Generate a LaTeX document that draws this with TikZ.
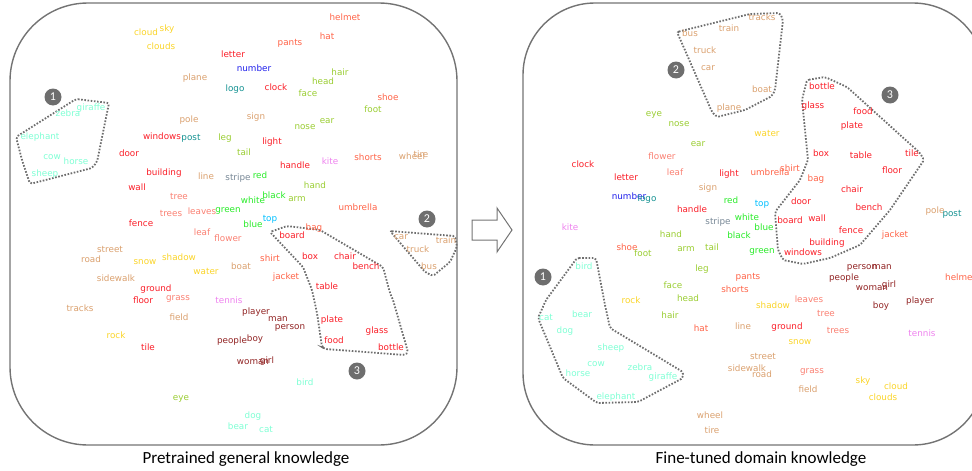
\documentclass[tikz,border=0pt]{standalone}
\usepackage{fontspec}
\newfontfamily\wordfont{DejaVu Sans}
\newfontfamily\capfont{Carlito}
\definecolor{cYel}{RGB}{250,212,40}
\definecolor{cTan}{RGB}{218,160,110}
\definecolor{cRed}{RGB}{250,30,40}
\definecolor{cTom}{RGB}{255,99,71}
\definecolor{cSal}{RGB}{250,128,114}
\definecolor{cYG}{RGB}{154,205,50}
\definecolor{cBlu}{RGB}{30,30,235}
\definecolor{cTeal}{RGB}{20,145,145}
\definecolor{cLime}{RGB}{40,235,40}
\definecolor{cSky}{RGB}{0,191,255}
\definecolor{cSlate}{RGB}{120,136,150}
\definecolor{cVio}{RGB}{238,130,238}
\definecolor{cBrn}{RGB}{145,35,35}
\definecolor{cAqua}{RGB}{127,255,212}
\definecolor{cBorder}{RGB}{115,115,115}
\definecolor{cDot}{RGB}{110,110,110}
\newcommand\wrd[4]{\node[word,text=#1] (#2-#4) at (#3) {#4};}
\tikzset{
  word/.style={inner sep=0pt,font=\wordfont\fontsize{8.8}{10}\selectfont,text height=6.5pt,text depth=1.8pt},
  panel/.style={draw=cBorder,line width=1.4pt},
  group/.style={draw=cDot,line width=1.8pt,dash pattern=on 1.6pt off 1.6pt,rounded corners=2pt},
  badge/.style={circle,fill=cDot,text=white,minimum size=17pt,inner sep=0pt,font=\capfont\fontsize{12}{12}\selectfont},
  caption/.style={inner sep=0pt,font=\capfont\fontsize{17}{20}\selectfont},
  hollowarrow/.style={draw=cBorder,line width=1pt,line join=miter}
}
\begin{document}
\begin{tikzpicture}[x=1pt,y=-1pt]
\useasboundingbox (0,0) rectangle (972,471);
% panels
\draw[panel,rounded corners=78pt] (10,3) rectangle (457,445);
\draw[panel,rounded corners=72pt] (523,3) rectangle (985,445);
% arrow
\draw[hollowarrow] (472,220) -- (497,220) -- (497,208) -- (512,230) -- (497,252) -- (497,240) -- (472,240) -- cycle;
% captions
\node[caption] (capL) at (246,459) {Pretrained general knowledge};
\node[caption] (capR) at (761,459) {Fine-tuned domain knowledge};
% left groups
\draw[group] (76,99) -- (109,103) -- (97,162) -- (92,168) -- (30,184) -- (22,160) -- (16,137) -- cycle;
\draw[group] (390,231) -- (455,236) -- (457,247) -- (450,262) -- (433,276) -- (425,272) -- cycle;
\draw[group] (270,232) -- (287,226) -- (320,230) -- (383,267) -- (390,293) -- (393,300) -- (408,352) -- (405,355) -- (325,349) -- (322,347) -- (317,313) -- (312,290) -- (303,267) -- cycle;
% right groups
\draw[group] (677,32) -- (750,14) -- (780,13) -- (783,20) -- (775,90) -- (772,96) -- (745,110) -- (717,117) -- (712,112) -- cycle;
\draw[group] (807,80) -- (825,77) -- (847,87) -- (920,153) -- (924,160) -- (890,210) -- (860,245) -- (830,258) -- (803,264) -- (783,260) -- (778,250) -- (775,212) -- (800,180) -- (808,160) -- (802,100) -- cycle;
\draw[group] (577,258) -- (596,258) -- (605,305) -- (610,328) -- (683,372) -- (683,378) -- (638,402) -- (597,403) -- (563,378) -- (538,318) -- (546,300) -- cycle;
% badges
\node[badge] (bL1) at (53,97) {1};
\node[badge] (bL2) at (427,219) {2};
\node[badge] (bL3) at (357,371) {3};
\node[badge] (bR1) at (543,277) {1};
\node[badge] (bR2) at (676,70) {2};
\node[badge] (bR3) at (890,95) {3};
% ---------- left words ----------
\wrd{cYel}{L}{146,33}{cloud}
\wrd{cYel}{L}{167,29}{sky}
\wrd{cYel}{L}{161,47}{clouds}
\wrd{cRed}{L}{233,55}{letter}
\wrd{cTan}{L}{195,78}{plane}
\wrd{cTeal}{L}{235,89}{logo}
\wrd{cAqua}{L}{68,114}{zebra}
\wrd{cAqua}{L}{91,108}{giraffe}
\wrd{cAqua}{L}{40,137}{elephant}
\wrd{cTan}{L}{189,120}{pole}
\wrd{cRed}{L}{162,137}{windows}
\wrd{cTeal}{L}{191,138}{post}
\wrd{cYG}{L}{225,138}{leg}
\wrd{cRed}{L}{129,154}{door}
\wrd{cAqua}{L}{52,157}{cow}
\wrd{cTom}{L}{345,18}{helmet}
\wrd{cTom}{L}{327,37}{hat}
\wrd{cTom}{L}{290,43}{pants}
\wrd{cBlu}{L}{254,69}{number}
\wrd{cYG}{L}{340,73}{hair}
\wrd{cYG}{L}{323,82}{head}
\wrd{cRed}{L}{276,88}{clock}
\wrd{cYG}{L}{308,94}{face}
\wrd{cTom}{L}{388,98}{shoe}
\wrd{cYG}{L}{373,110}{foot}
\wrd{cTan}{L}{256,117}{sign}
\wrd{cYG}{L}{327,121}{ear}
\wrd{cYG}{L}{305,127}{nose}
\wrd{cRed}{L}{272,142}{light}
\wrd{cYG}{L}{244,153}{tail}
\wrd{cTom}{L}{368,158}{shorts}
\wrd{cTan}{L}{412,157}{wheel}
\wrd{cTan}{L}{421,155}{tire}
\wrd{cVio}{L}{330,162}{kite}
\wrd{cRed}{L}{295,166}{handle}
\wrd{cAqua}{L}{76,162}{horse}
\wrd{cAqua}{L}{45,174}{sheep}
\wrd{cRed}{L}{164,173}{building}
\wrd{cTan}{L}{206,177}{line}
\wrd{cSlate}{L}{238,178}{stripe}
\wrd{cLime}{L}{260,176}{red}
\wrd{cRed}{L}{137,188}{wall}
\wrd{cSal}{L}{179,197}{tree}
\wrd{cYG}{L}{315,186}{hand}
\wrd{cLime}{L}{274,196}{black}
\wrd{cYG}{L}{297,199}{arm}
\wrd{cLime}{L}{253,201}{white}
\wrd{cSal}{L}{171,214}{trees}
\wrd{cSal}{L}{202,212}{leaves}
\wrd{cLime}{L}{228,210}{green}
\wrd{cTom}{L}{358,208}{umbrella}
\wrd{cRed}{L}{141,224}{fence}
\wrd{cSky}{L}{270,219}{top}
\wrd{cLime}{L}{253,225}{blue}
\wrd{cSal}{L}{202,233}{leaf}
\wrd{cSal}{L}{228,239}{flower}
\wrd{cRed}{L}{292,236}{board}
\wrd{cTom}{L}{314,228}{bag}
\wrd{cTan}{L}{110,250}{street}
\wrd{cTan}{L}{91,260}{road}
\wrd{cYel}{L}{145,262}{snow}
\wrd{cYel}{L}{179,258}{shadow}
\wrd{cTom}{L}{270,259}{shirt}
\wrd{cRed}{L}{310,257}{box}
\wrd{cRed}{L}{345,257}{chair}
\wrd{cTan}{L}{401,237}{car}
\wrd{cTan}{L}{446,241}{train}
\wrd{cTan}{L}{418,250}{truck}
\wrd{cTan}{L}{429,267}{bus}
\wrd{cRed}{L}{366,267}{bench}
\wrd{cTan}{L}{241,267}{boat}
\wrd{cYel}{L}{206,272}{water}
\wrd{cTom}{L}{286,277}{jacket}
\wrd{cTan}{L}{116,279}{sidewalk}
\wrd{cRed}{L}{156,289}{ground}
\wrd{cRed}{L}{327,287}{table}
\wrd{cRed}{L}{143,301}{floor}
\wrd{cSal}{L}{178,298}{grass}
\wrd{cVio}{L}{229,301}{tennis}
\wrd{cTan}{L}{80,309}{tracks}
\wrd{cTan}{L}{179,318}{field}
\wrd{cBrn}{L}{256,312}{player}
\wrd{cBrn}{L}{278,319}{man}
\wrd{cBrn}{L}{290,327}{person}
\wrd{cRed}{L}{332,320}{plate}
\wrd{cRed}{L}{377,331}{glass}
\wrd{cYel}{L}{116,336}{rock}
\wrd{cRed}{L}{148,348}{tile}
\wrd{cBrn}{L}{232,341}{people}
\wrd{cBrn}{L}{255,339}{boy}
\wrd{cRed}{L}{334,341}{food}
\wrd{cRed}{L}{391,348}{bottle}
\wrd{cBrn}{L}{253,362}{woman}
\wrd{cBrn}{L}{267,361}{girl}
\wrd{cAqua}{L}{305,383}{bird}
\wrd{cYG}{L}{181,398}{eye}
\wrd{cAqua}{L}{253,416}{dog}
\wrd{cAqua}{L}{238,427}{bear}
\wrd{cAqua}{L}{266,430}{cat}
% ---------- right words ----------
\wrd{cTan}{R}{690,34}{bus}
\wrd{cTan}{R}{729,29}{train}
\wrd{cTan}{R}{705,51}{truck}
\wrd{cTan}{R}{708,68}{car}
\wrd{cTan}{R}{729,108}{plane}
\wrd{cYG}{R}{654,114}{eye}
\wrd{cYG}{R}{679,124}{nose}
\wrd{cYG}{R}{698,144}{ear}
\wrd{cSal}{R}{662,157}{flower}
\wrd{cTan}{R}{762,18}{tracks}
\wrd{cTan}{R}{762,90}{boat}
\wrd{cRed}{R}{822,87}{bottle}
\wrd{cRed}{R}{813,106}{glass}
\wrd{cRed}{R}{863,112}{food}
\wrd{cRed}{R}{852,126}{plate}
\wrd{cYel}{R}{767,134}{water}
\wrd{cRed}{R}{821,154}{box}
\wrd{cRed}{R}{861,156}{table}
\wrd{cRed}{R}{912,154}{tile}
\wrd{cRed}{R}{583,165}{clock}
\wrd{cRed}{R}{626,178}{letter}
\wrd{cSal}{R}{675,173}{leaf}
\wrd{cRed}{R}{729,174}{light}
\wrd{cTan}{R}{708,188}{sign}
\wrd{cBlu}{R}{629,197}{number}
\wrd{cTeal}{R}{647,199}{logo}
\wrd{cLime}{R}{731,201}{red}
\wrd{cRed}{R}{692,210}{handle}
\wrd{cSlate}{R}{718,222}{stripe}
\wrd{cLime}{R}{747,218}{white}
\wrd{cVio}{R}{570,228}{kite}
\wrd{cYG}{R}{671,235}{hand}
\wrd{cLime}{R}{739,236}{black}
\wrd{cTom}{R}{627,248}{shoe}
\wrd{cYG}{R}{643,254}{foot}
\wrd{cYG}{R}{686,249}{arm}
\wrd{cYG}{R}{712,248}{tail}
\wrd{cAqua}{R}{584,267}{bird}
\wrd{cYG}{R}{702,269}{leg}
\wrd{cYG}{R}{673,286}{face}
\wrd{cTom}{R}{748,277}{pants}
\wrd{cTom}{R}{735,290}{shorts}
\wrd{cYel}{R}{631,301}{rock}
\wrd{cYG}{R}{688,299}{head}
\wrd{cTom}{R}{770,173}{umbrella}
\wrd{cTom}{R}{790,169}{shirt}
\wrd{cTom}{R}{816,179}{bag}
\wrd{cRed}{R}{892,171}{floor}
\wrd{cRed}{R}{852,190}{chair}
\wrd{cRed}{R}{801,202}{door}
\wrd{cSky}{R}{762,204}{top}
\wrd{cRed}{R}{869,208}{bench}
\wrd{cRed}{R}{790,221}{board}
\wrd{cRed}{R}{817,219}{wall}
\wrd{cLime}{R}{764,228}{blue}
\wrd{cTan}{R}{935,211}{pole}
\wrd{cTeal}{R}{952,214}{post}
\wrd{cRed}{R}{851,231}{fence}
\wrd{cTom}{R}{895,235}{jacket}
\wrd{cRed}{R}{827,243}{building}
\wrd{cLime}{R}{762,251}{green}
\wrd{cRed}{R}{803,253}{windows}
\wrd{cBrn}{R}{862,267}{person}
\wrd{cBrn}{R}{882,267}{man}
\wrd{cBrn}{R}{844,278}{people}
\node[word,text=cTom,anchor=west] (R-helmet) at (945,278) {helmet};
\wrd{cBrn}{R}{872,288}{woman}
\wrd{cBrn}{R}{889,285}{girl}
\wrd{cBrn}{R}{920,301}{player}
\wrd{cBrn}{R}{881,306}{boy}
\wrd{cSal}{R}{809,300}{leaves}
\wrd{cYel}{R}{773,306}{shadow}
\wrd{cAqua}{R}{546,318}{cat}
\wrd{cAqua}{R}{582,315}{bear}
\wrd{cYG}{R}{670,316}{hair}
\wrd{cAqua}{R}{565,331}{dog}
\wrd{cTom}{R}{701,329}{hat}
\wrd{cTan}{R}{743,327}{line}
\wrd{cAqua}{R}{611,348}{sheep}
\wrd{cAqua}{R}{596,364}{cow}
\wrd{cAqua}{R}{640,368}{zebra}
\wrd{cAqua}{R}{578,374}{horse}
\wrd{cAqua}{R}{663,377}{giraffe}
\wrd{cAqua}{R}{616,397}{elephant}
\wrd{cTan}{R}{710,416}{wheel}
\wrd{cTan}{R}{712,431}{tire}
\wrd{cSal}{R}{826,314}{tree}
\wrd{cRed}{R}{787,327}{ground}
\wrd{cSal}{R}{838,331}{trees}
\wrd{cVio}{R}{922,334}{tennis}
\wrd{cYel}{R}{800,342}{snow}
\wrd{cTan}{R}{763,357}{street}
\wrd{cTan}{R}{747,369}{sidewalk}
\wrd{cTan}{R}{762,375}{road}
\wrd{cSal}{R}{812,371}{grass}
\wrd{cYel}{R}{863,381}{sky}
\wrd{cYel}{R}{896,387}{cloud}
\wrd{cTan}{R}{808,390}{field}
\wrd{cYel}{R}{883,398}{clouds}
\end{tikzpicture}
\end{document}
